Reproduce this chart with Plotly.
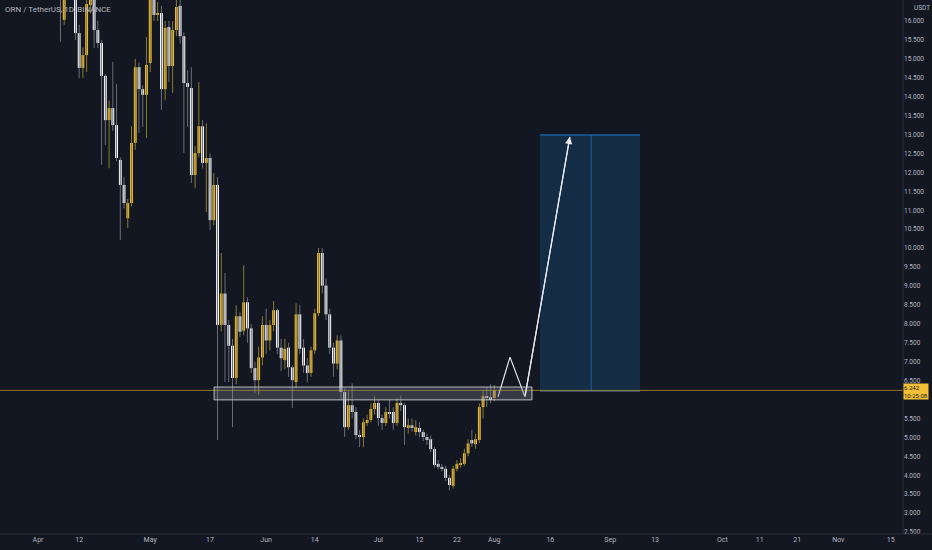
import pandas as pd
import plotly.graph_objects as go

# daily candles, ORN / USDT (Binance), Apr 1 - Aug 1 2021
opens = [
    18.4, 19.1, 18.9, 17.9, 18.2, 17.6, 17.9, 16.03, 17.1, 17.5,
    17.0, 15.68, 14.76, 15.10, 16.42, 16.90, 15.76, 15.42, 14.55, 13.38,
    13.70, 13.25, 12.33, 11.67, 10.79, 11.19, 12.78, 14.78, 14.20, 14.05,
    # May
    14.89, 16.80, 16.16, 16.21, 14.20, 15.84, 14.81, 15.76, 16.40, 15.60,
    14.36, 14.23, 11.93, 12.51, 13.22, 12.25, 12.38, 10.74, 11.67, 7.97,
    8.80, 7.97, 7.42, 6.57, 8.20, 7.82, 8.57, 7.88, 6.83, 6.51, 7.11,
    # Jun
    7.97, 7.56, 7.97, 8.36, 7.37, 7.04, 7.37, 6.85, 6.46, 8.25,
    7.37, 6.90, 6.70, 7.30, 8.28, 9.87, 9.01, 8.25, 7.37, 6.95,
    7.56, 6.20, 5.27, 5.85, 5.67, 5.06, 5.01, 5.38, 5.46, 5.75,
    # Jul
    5.91, 5.51, 5.38, 5.67, 5.67, 5.38, 5.91, 5.85, 5.27, 5.32,
    5.14, 5.25, 5.14, 5.01, 4.95, 4.69, 4.30, 4.22, 4.17, 3.93,
    3.72, 4.17, 4.27, 4.30, 4.58, 4.93, 4.82, 4.93, 5.80, 6.09, 6.06,
    # Aug
    6.04,
]
highs = [
    19.6, 20.3, 19.4, 18.5, 18.8, 18.3, 18.2, 17.3, 17.8, 17.9,
    17.3, 15.90, 15.30, 16.70, 17.10, 17.20, 16.00, 15.50, 14.60, 13.90,
    14.92, 14.34, 12.40, 11.88, 11.30, 13.22, 15.00, 14.90, 14.30, 15.58,
    17.00, 17.10, 16.50, 16.40, 16.00, 16.00, 16.00, 16.70, 16.60, 15.70,
    14.70, 14.78, 12.70, 14.39, 13.38, 13.30, 12.50, 11.98, 11.88, 9.87,
    9.34, 8.10, 7.60, 8.49, 8.30, 9.55, 8.70, 8.00, 7.00, 7.40, 8.20,
    8.40, 8.10, 8.60, 8.40, 7.60, 7.60, 7.50, 6.90, 8.54, 8.50,
    7.60, 7.10, 7.40, 8.40, 10.00, 10.00, 9.20, 8.40, 7.50, 7.70,
    7.70, 6.30, 6.22, 6.43, 5.80, 5.20, 5.50, 5.60, 5.90, 6.09,
    6.00, 5.60, 5.80, 6.00, 5.80, 6.04, 6.10, 5.90, 5.50, 5.50,
    5.45, 5.40, 5.20, 5.10, 5.05, 4.75, 4.40, 4.30, 4.25, 4.00,
    4.25, 4.40, 4.45, 4.70, 4.95, 5.20, 5.10, 5.90, 6.25, 6.33, 6.40,
    6.38,
]
lows = [
    17.9, 18.6, 17.6, 16.9, 17.3, 16.9, 15.45, 15.90, 16.8, 16.9,
    15.50, 14.49, 14.49, 14.65, 16.20, 15.29, 15.29, 12.20, 12.72, 12.11,
    13.10, 12.30, 10.21, 11.05, 10.53, 11.10, 12.60, 13.04, 13.20, 12.91,
    14.65, 16.00, 16.00, 13.65, 13.91, 14.39, 14.10, 15.60, 15.40, 12.51,
    13.20, 11.72, 11.59, 12.40, 12.10, 10.95, 10.48, 10.60, 4.93, 7.80,
    6.46, 6.46, 5.27, 6.40, 7.65, 7.70, 7.50, 6.70, 6.17, 6.12, 6.90,
    7.20, 7.30, 7.80, 7.20, 6.75, 6.80, 6.60, 5.78, 6.30, 7.20,
    6.70, 6.45, 6.60, 7.20, 8.20, 8.80, 8.10, 7.20, 6.60, 6.80,
    6.00, 5.01, 5.20, 5.50, 4.95, 4.74, 4.74, 5.30, 5.40, 5.60,
    5.30, 5.20, 5.30, 5.50, 5.20, 5.30, 5.70, 4.80, 5.10, 5.15,
    5.05, 5.00, 4.90, 4.80, 4.60, 4.20, 4.15, 4.10, 3.85, 3.60,
    3.65, 4.10, 4.20, 4.25, 4.50, 4.75, 4.70, 4.85, 5.50, 5.80, 5.90,
    5.95,
]
closes = [
    19.1, 18.9, 17.9, 18.2, 17.6, 17.9, 17.0, 17.1, 17.5, 17.0,
    15.68, 14.76, 15.10, 16.45, 16.80, 15.76, 15.42, 14.55, 13.38, 13.70,
    13.25, 12.38, 11.67, 11.19, 11.19, 12.78, 14.78, 14.20, 14.05, 14.84,
    16.70, 16.16, 16.21, 14.20, 15.82, 14.81, 15.76, 16.37, 15.60, 14.36,
    14.26, 11.93, 12.51, 13.22, 12.25, 12.38, 10.74, 11.67, 7.97, 8.80,
    7.97, 7.42, 6.57, 8.20, 7.79, 8.57, 7.88, 6.83, 6.51, 7.11, 7.97,
    7.56, 7.97, 8.36, 7.37, 7.09, 7.34, 6.85, 6.51, 8.25, 7.34,
    6.90, 6.70, 7.30, 8.28, 9.87, 9.01, 8.25, 7.37, 6.95, 7.56,
    6.20, 5.27, 5.85, 5.67, 5.06, 5.01, 5.40, 5.46, 5.75, 5.91,
    5.51, 5.38, 5.67, 5.64, 5.38, 5.91, 5.85, 5.27, 5.32, 5.27,
    5.27, 5.14, 5.01, 4.93, 4.69, 4.27, 4.22, 4.17, 3.93, 3.74,
    4.17, 4.30, 4.30, 4.58, 4.84, 4.84, 4.95, 5.80, 6.09, 6.04, 6.01,
    6.242,
]
dates = pd.date_range("2021-04-01", periods=len(closes), freq="D")

last_price = closes[-1]
last_time = "10:25:08"

# drawings: support zone, projected path, long-position target box
zone_start, zone_end = "2021-05-18 02:00", "2021-08-11 02:00"
zone_low, zone_high = 5.99, 6.33
path_dates = ["2021-08-02 00:00", "2021-08-05 05:00", "2021-08-09 05:00"]
path_prices = [6.07, 7.12, 6.07]
arrow_date, arrow_price = "2021-08-21 05:00", 12.94
box_start, box_mid, box_end = "2021-08-13 05:00", "2021-08-26 22:00", "2021-09-09 00:00"
box_low, box_high = 6.22, 12.99
box_label = "6.740 (108.34%) 6740"

tick_dates = ["2021-04-01", "2021-04-12", "2021-05-01", "2021-05-17", "2021-06-01",
              "2021-06-14", "2021-07-01", "2021-07-12", "2021-07-22", "2021-08-01",
              "2021-08-16", "2021-09-01", "2021-09-13", "2021-10-01", "2021-10-11",
              "2021-10-21", "2021-11-01", "2021-11-15"]
tick_text = ["Apr", "12", "May", "17", "Jun", "14", "Jul", "12", "22", "Aug",
             "16", "Sep", "13", "Oct", "11", "21", "Nov", "15"]
# 6.000 sits under the last-price label, so TradingView leaves it out
price_ticks = [2.5, 3.0, 3.5, 4.0, 4.5, 5.0, 5.5, 6.5, 7.0, 7.5, 8.0, 8.5, 9.0, 9.5,
               10.0, 10.5, 11.0, 11.5, 12.0, 12.5, 13.0, 13.5, 14.0, 14.5, 15.0,
               15.5, 16.0, 16.5]

BG = "#131722"
GOLD = "#F2C037"
TXT = "#B2B5BE"
DAY_MS = 86400000

fig = go.Figure()

# wicks, split by candle direction so they get their own colours
for up, colour in [(True, "#8C7A2E"), (False, "#6A6D78")]:
    wx, wy = [], []
    for d, o, h, l, c in zip(dates, opens, highs, lows, closes):
        if (c >= o) == up:
            wx += [d, d, None]
            wy += [l, h, None]
    fig.add_trace(go.Scatter(x=wx, y=wy, mode="lines",
                             line=dict(color=colour, width=1),
                             hoverinfo="skip", showlegend=False))

# bodies as floating bars
body_base = [min(o, c) for o, c in zip(opens, closes)]
body_len = [max(abs(c - o), 0.03) for o, c in zip(opens, closes)]
body_col = [GOLD if c >= o else "#FFFFFF" for o, c in zip(opens, closes)]
fig.add_trace(go.Bar(x=dates, y=body_len, base=body_base, width=0.76 * DAY_MS,
                     marker=dict(color=body_col, line=dict(width=0)),
                     hoverinfo="skip", showlegend=False))

# projected path + arrow to the target
fig.add_trace(go.Scatter(x=path_dates + [arrow_date], y=path_prices + [arrow_price],
                         mode="lines", line=dict(color="#E8EAF0", width=1.2),
                         hoverinfo="skip", showlegend=False))
fig.add_annotation(x=arrow_date, y=arrow_price, ax=path_dates[-1], ay=path_prices[-1],
                   xref="x", yref="y", axref="x", ayref="y", text="",
                   showarrow=True, arrowhead=2, arrowsize=1.2, arrowwidth=1.2,
                   arrowcolor="#E8EAF0")

shapes = [
    # last price line
    dict(type="line", xref="paper", x0=0, x1=1, yref="y", y0=last_price, y1=last_price,
         line=dict(color="rgba(242,192,55,0.55)", width=1)),
    # support zone
    dict(type="rect", x0=zone_start, x1=zone_end, y0=zone_low, y1=zone_high,
         fillcolor="rgba(120,123,134,0.35)", line=dict(color="rgba(220,222,228,0.8)", width=1)),
    # target box
    dict(type="rect", x0=box_start, x1=box_end, y0=box_low, y1=box_high,
         fillcolor="rgba(33,150,243,0.17)", line=dict(width=0), layer="below"),
    dict(type="line", x0=box_start, x1=box_end, y0=box_high, y1=box_high,
         line=dict(color="rgba(33,150,243,0.8)", width=1)),
    dict(type="line", x0=box_start, x1=box_end, y0=box_low, y1=box_low,
         line=dict(color="rgba(120,140,165,0.6)", width=1)),
    dict(type="line", x0=box_mid, x1=box_mid, y0=box_low, y1=box_high,
         line=dict(color="rgba(33,150,243,0.5)", width=1)),
    # axis separators
    dict(type="line", xref="paper", yref="paper", x0=1, x1=1, y0=0, y1=1,
         line=dict(color="#2A2E39", width=1)),
    dict(type="line", xref="paper", yref="paper", x0=0, x1=1.04, y0=0, y1=0,
         line=dict(color="#2A2E39", width=1)),
]

annotations = [
    dict(x=box_mid, y=box_high, xref="x", yref="y", yshift=10, text=box_label,
         showarrow=False, bgcolor="#1E88E5", borderpad=2,
         font=dict(color="#FFFFFF", size=7, family="Roboto")),
    dict(x=0.003, y=0.995, xref="paper", yref="paper", xanchor="left", yanchor="top",
         text="ORN / TetherUS, 1D, BINANCE", showarrow=False,
         font=dict(color=TXT, size=8, family="Roboto")),
    dict(x=1.0, y=last_price, xref="paper", yref="y", xanchor="left", yanchor="middle",
         yshift=-1.5, text=f"{last_price:.3f}<br>{last_time}", showarrow=False, align="left",
         bgcolor=GOLD, borderpad=0, font=dict(color="#131722", size=6, family="Roboto")),
    dict(x=1.0, y=16.34, xref="paper", yref="y", xanchor="left", yanchor="middle", xshift=9,
         text="USDT", showarrow=False, font=dict(color=TXT, size=6.5, family="Roboto")),
]

fig.update_layout(
    width=932, height=550,
    paper_bgcolor=BG, plot_bgcolor=BG,
    margin=dict(l=0, r=29, t=0, b=16, autoexpand=False),
    showlegend=False,
    barmode="overlay",
    shapes=shapes,
    annotations=annotations,
    xaxis=dict(
        type="date", range=["2021-03-21 20:00", "2021-11-18 07:00"],
        tickmode="array", tickvals=tick_dates, ticktext=tick_text,
        tickfont=dict(color=TXT, size=7, family="Roboto"),
        showgrid=False, zeroline=False, showline=False, ticks="",
        automargin=False,
    ),
    yaxis=dict(
        side="right", range=[2.447, 16.555],
        tickmode="array", tickvals=price_ticks,
        tickformat=".3f",
        tickfont=dict(color=TXT, size=6.5, family="Roboto"),
        showgrid=False, zeroline=False, showline=False, ticks="",
        automargin=False,
    ),
)

# the page's default 8px body margin would shift the chart inside the window
fig.write_html("out.html",
               config={"displayModeBar": False},
               post_script="document.body.style.margin='0px';"
                           "document.body.style.background='#131722';")
